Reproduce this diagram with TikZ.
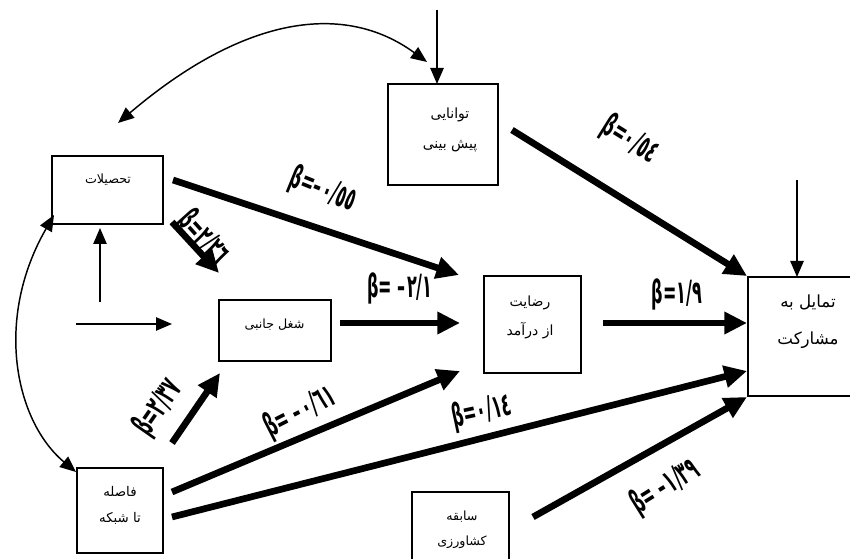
\documentclass[tikz,border=0pt]{standalone}
\usepackage{fontspec}
\usetikzlibrary{arrows.meta}
\TeXXeTstate=1
\newfontfamily\fa[Script=Arabic]{DejaVu Sans}
\newfontfamily\lbl[FakeStretch=0.5]{DejaVu Sans Bold}
\newcommand{\mn}{\kern0pt–\kern0pt}
\begin{document}
\begin{tikzpicture}[x=0.75pt,y=-0.75pt,
  box/.style={draw,line width=1pt,inner sep=0pt},
  txt/.style={font=\fa\fontsize{9.5}{20}\selectfont,align=center,inner sep=0pt},
  thk/.style={line width=5pt,-{Triangle[length=17pt,width=16pt]}},
  thn/.style={line width=1.1pt,-{Triangle[length=12pt,width=10pt]}},
  bidir/.style={line width=1.1pt,{Triangle[length=12pt,width=10pt]}-{Triangle[length=12pt,width=10pt]}},
  lab/.style={font=\lbl\fontsize{24}{24}\selectfont,inner sep=0pt}]
\clip (0,0) rectangle (850,559);
\fill[white] (0,0) rectangle (850,559);
% boxes
\node[box,minimum width=83.25pt,minimum height=51pt] (tah) at (107.5,190) {};
\node[box,minimum width=84pt,minimum height=45.75pt] (shogl) at (275,330.5) {};
\node[box,minimum width=82.5pt,minimum height=75.75pt] (tav) at (443,134.5) {};
\node[box,minimum width=72.75pt,minimum height=72.75pt] (rez) at (532.5,324.5) {};
\node[box,minimum width=64.5pt,minimum height=63.75pt] (fas) at (120,510.5) {};
\node[box,minimum width=72.75pt,minimum height=57pt] (sab) at (460.5,530) {};
\node[box,minimum width=90pt,minimum height=89.25pt] (tam) at (808,336.5) {};
% texts
\node[txt] (tahT) at (108,180) {\beginR تحصیلات\endR};
\node[txt] (shoglT) at (274.5,325) {\beginR شغل جانبی\endR};
\node[txt,font=\fa\fontsize{10.5}{22.5}\selectfont] (tavT) at (450,130) {\beginR توانایی\endR\\\beginR پیش بینی\endR};
\node[txt,font=\fa\fontsize{10.5}{21.75}\selectfont] (rezT) at (530,317.5) {\beginR رضایت\endR\\\beginR از درآمد\endR};
\node[txt,font=\fa\fontsize{10}{19.5}\selectfont] (fasT) at (120,505) {\beginR فاصله\endR\\\beginR تا شبکه\endR};
\node[txt,font=\fa\fontsize{9.5}{18.75}\selectfont] (sabT) at (462,529.5) {\beginR سابقه\endR\\\beginR کشاورزی\endR};
\node[txt,font=\fa\fontsize{12.5}{27.75}\selectfont] (tamT) at (808,321.5) {\beginR تمایل به\endR\\\beginR مشارکت\endR};
% connector end points
\coordinate (a1s) at (512,130); \coordinate (a1e) at (747,276);
\coordinate (a2s) at (173,180); \coordinate (a2e) at (459,275);
\coordinate (a3s) at (172,222); \coordinate (a3e) at (219,273);
\coordinate (a4s) at (340,323); \coordinate (a4e) at (460,323);
\coordinate (a5s) at (603,323); \coordinate (a5e) at (747,323);
\coordinate (a6s) at (172,443); \coordinate (a6e) at (220,373);
\coordinate (a7s) at (172,492); \coordinate (a7e) at (460,371);
\coordinate (a8s) at (172,517); \coordinate (a8e) at (747,371);
\coordinate (a9s) at (533,517); \coordinate (a9e) at (747,397);
\coordinate (t1s) at (437,10); \coordinate (t1e) at (437,84);
\coordinate (t2s) at (797,180); \coordinate (t2e) at (797,277);
\coordinate (t3s) at (100,302); \coordinate (t3e) at (100,228);
\coordinate (t4s) at (76,324); \coordinate (t4e) at (172,324);
\coordinate (c1s) at (118,123); \coordinate (c1e) at (427,62);
\coordinate (c2s) at (54,215); \coordinate (c2e) at (76,472);
% thick arrows
\draw[thk] (a1s) -- (a1e);
\draw[thk] (a2s) -- (a2e);
\draw[thk] (a3s) -- (a3e);
\draw[thk] (a4s) -- (a4e);
\draw[thk] (a5s) -- (a5e);
\draw[thk] (a6s) -- (a6e);
\draw[thk] (a7s) -- (a7e);
\draw[thk] (a8s) -- (a8e);
\draw[thk] (a9s) -- (a9e);
% thin arrows
\draw[thn] (t1s) -- (t1e);
\draw[thn] (t2s) -- (t2e);
\draw[thn] (t3s) -- (t3e);
\draw[thn] (t4s) -- (t4e);
\draw[bidir] (c1s) .. controls (245,15) and (345,2) .. (c1e);
\draw[bidir] (c2s) .. controls (-6,319) and (15,421) .. (c2e);
% labels
\node[lab,rotate=-32] (L1) at (630,140) {β=٠/٥٤};
\node[lab,rotate=-22] (L2) at (323,190) {β=\mn\kern1pt٠/٥٥};
\node[lab,rotate=-48] (L3) at (203,238) {β=٢/٢٦};
\node[lab] (L4) at (400,288) {β= \mn\kern1pt٢/١};
\node[lab] (L5) at (677,294) {β=١/٩};
\node[lab,rotate=55] (L6) at (158,408) {β=٢/٣٧};
\node[lab,rotate=27] (L7) at (300,412) {β= \mn\kern2pt٠/٦١};
\node[lab,rotate=12] (L8) at (482,412) {β=٠/١٤};
\node[lab,rotate=32] (L9) at (665,487) {β= \mn\kern1pt١/٣٩};
\end{tikzpicture}
\end{document}
